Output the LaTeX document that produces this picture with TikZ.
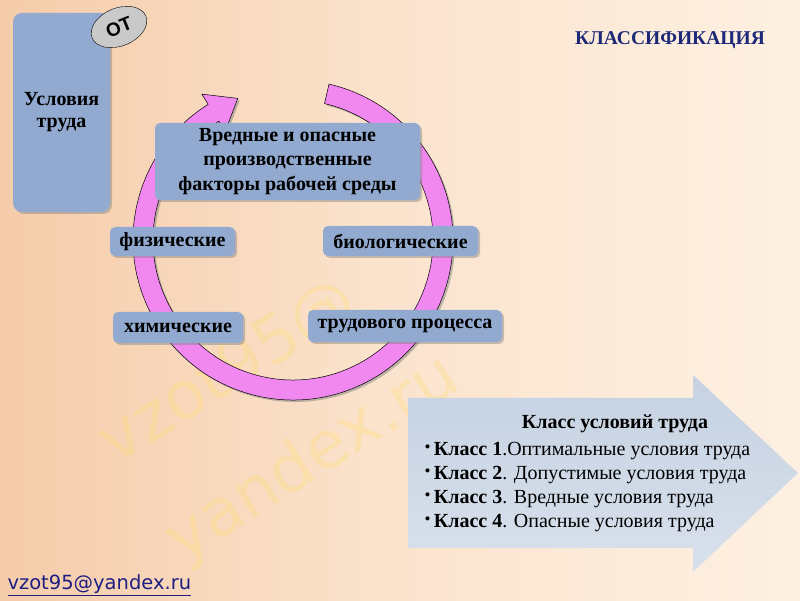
\documentclass[tikz,border=0pt]{standalone}
\usepackage{fontspec}
\setmainfont{Liberation Serif}
\newfontfamily\mailfont{DejaVu Sans}
\newfontfamily\otfont{Liberation Sans}
\usetikzlibrary{shadows,calc,shapes.geometric}

\definecolor{peachL}{RGB}{245,204,170}
\definecolor{peachM}{RGB}{251,228,206}
\definecolor{peachR}{RGB}{253,240,226}
\definecolor{boxblue}{RGB}{146,170,208}
\definecolor{ringpink}{RGB}{240,136,240}
\definecolor{arrowtop}{RGB}{198,210,226}
\definecolor{arrowbot}{RGB}{216,224,235}
\definecolor{titleblue}{RGB}{28,40,120}
\definecolor{mailblue}{RGB}{30,30,130}
\definecolor{wmyellow}{RGB}{255,222,110}

\begin{document}
\begin{tikzpicture}[x=1pt, y=1pt, line join=round,
	factor/.style={fill=boxblue, rounded corners=5pt, inner sep=0pt, align=center,
		drop shadow={shadow xshift=2pt, shadow yshift=-2pt, opacity=.45},
		font=\bfseries\fontsize{20}{24.5}\selectfont},
	watermark/.style={text=wmyellow, opacity=.3, rotate=32,
		font=\mailfont\fontsize{66}{66}\selectfont},
	classline/.style={anchor=base west, font=\fontsize{20}{22}\selectfont},
	]
	% Background (800 x 600)
	\shade[left color=peachL, right color=peachR, middle color=peachM]
	(0,0) rectangle (800,600);
	\useasboundingbox (0,0) rectangle (800,600);
	
	% Watermark
	\node[watermark] (wm1) at (229,227) {vzot95@};
	\node[watermark] (wm2) at (313,140) {yandex.ru};
	
	% Circular arrow round the factors
	\coordinate (C) at (293,360);
	\def\rout{160} \def\rin{140}
	\draw[fill=ringpink, line width=.5pt,
	drop shadow={shadow xshift=2pt, shadow yshift=-2pt, opacity=.5}]
	($(C)+(77:\rout)$) arc[start angle=77, end angle=-238, radius=\rout]
	-- ($(C)+(122:172)$) -- ($(C)+(111.3:152)$) -- ($(C)+(122:128)$)
	-- ($(C)+(122:\rin)$) arc[start angle=-238, end angle=77, radius=\rin]
	-- cycle;
	
	% Left box and label
	\node[factor, minimum width=97, minimum height=199, rounded corners=9pt,
	font=\bfseries\fontsize{20}{22}\selectfont] (cond) at (61.5,487.5)
	{Условия\\труда};
	\node[draw, fill=gray!42, ellipse, rotate=22, minimum width=58, minimum height=38,
	inner sep=0pt, font=\otfont\bfseries\fontsize{19}{19}\selectfont] (ot) at (119,573) {ОТ};
	
	% Title
	\node[text=titleblue, font=\bfseries\fontsize{19.5}{19.5}\selectfont] (title) at (670,560)
	{КЛАССИФИКАЦИЯ};
	
	% Factor boxes
	\node[factor, minimum width=265, minimum height=77] (main) at (287.5,438.5)
	{Вредные и опасные\\производственные\\факторы рабочей среды};
	\node[factor, minimum width=125, minimum height=29] (phys) at (172.5,358.5) {физические};
	\node[factor, minimum width=155, minimum height=30] (bio) at (400.5,359) {биологические};
	\node[factor, minimum width=130, minimum height=31] (chem) at (178,272.5) {химические};
	\node[factor, minimum width=194, minimum height=32] (labour) at (405,274) {трудового процесса};
	
	% Arrow with the classes
	\shade[top color=arrowtop, bottom color=arrowbot]
	(408,202) -- (693,202) -- (693,225) -- (798,127) -- (693,28) -- (693,52)
	-- (408,52) -- cycle;
	\node[font=\bfseries\fontsize{20}{22}\selectfont] (head) at (615,176) {Класс условий труда};
	\foreach \n/\txt [count=\i] in {1/.Оптимальные условия труда,
		2/. Допустимые условия труда, 3/. Вредные условия труда,
		4/. Опасные условия труда} {
		\node[classline] (cls\n) at (421,{145-24*(\i-1)})
		{{\fontsize{17}{17}\selectfont\raisebox{3pt}{•}}\,\textbf{Класс \n}\txt};
	}
	
	% E-mail
	\node[anchor=west, text=mailblue, font=\mailfont\fontsize{19.5}{19.5}\selectfont]
	(mail) at (4,15) {\underline{vzot95@yandex.ru}};
\end{tikzpicture}
\end{document}
